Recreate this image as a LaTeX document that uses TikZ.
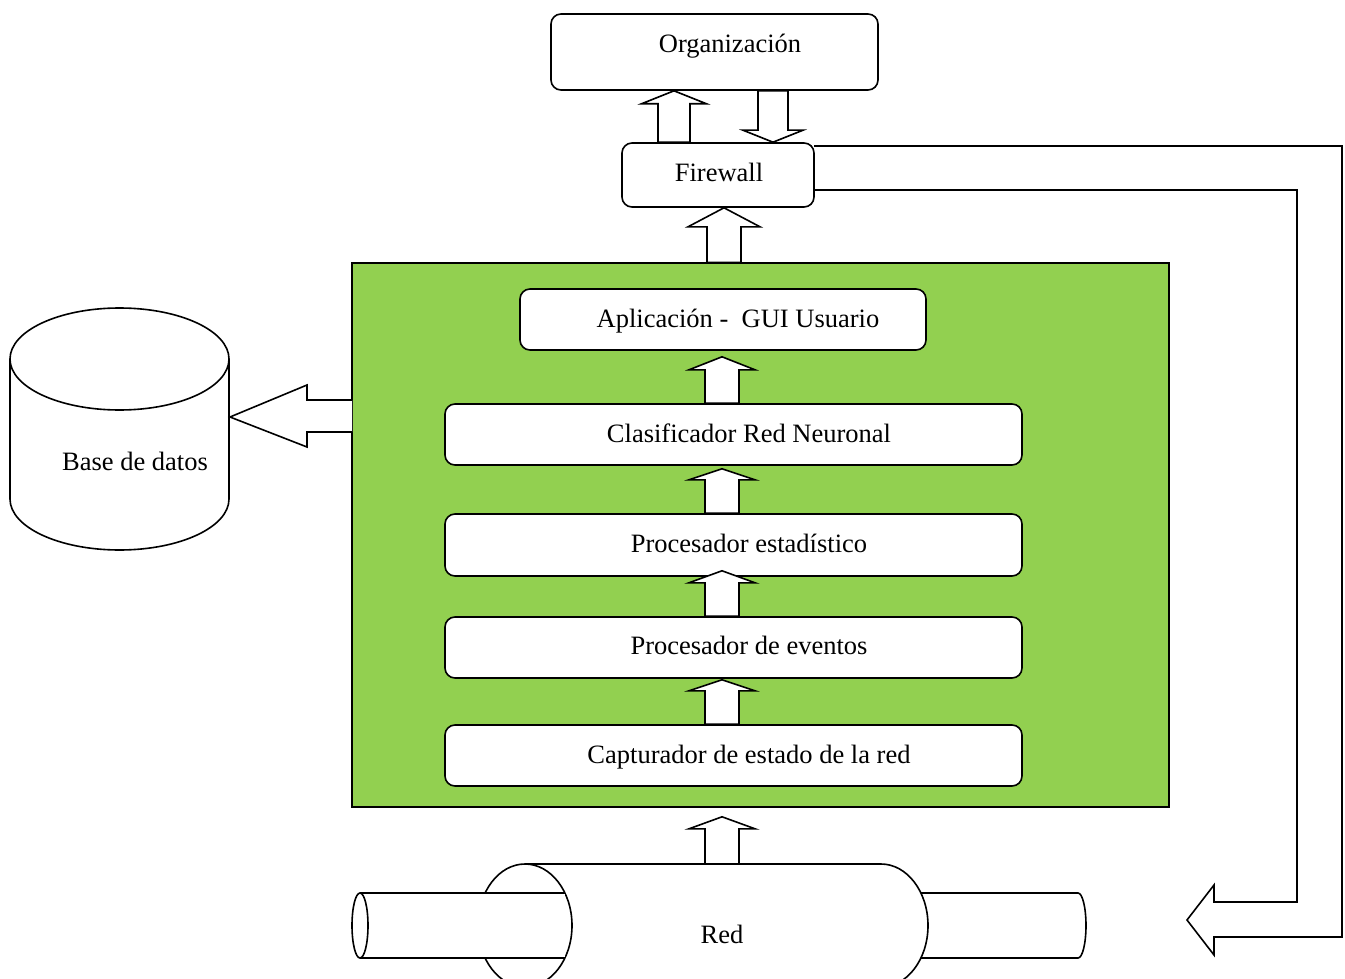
\documentclass[tikz,border=0pt]{standalone}
\usepackage{fontspec}
\setmainfont{Liberation Serif}
\usetikzlibrary{calc}
\definecolor{layergreen}{HTML}{92D050}
% #1 x, #2 tip coordinate, #3 base coordinate, #4 shaft half width, #5 head half width, #6 signed head length
\newcommand\blockup[6]{%
  \path[barrow] let \p1=(#2), \p2=(#3) in
    ({#1pt-#4pt},\y2) -- ({#1pt-#4pt},{\y1-(#6pt)}) -- ({#1pt-#5pt},{\y1-(#6pt)}) --
    ({#1pt},\y1) -- ({#1pt+#5pt},{\y1-(#6pt)}) -- ({#1pt+#4pt},{\y1-(#6pt)}) --
    ({#1pt+#4pt},\y2) -- cycle;}
\begin{document}
\begin{tikzpicture}[x=1pt,y=-1pt,line width=1.6pt,line join=miter,
  box/.style={draw,fill=white,rounded corners=10pt,inner sep=0pt},
  lbl/.style={anchor=base,inner sep=0pt,font=\fontsize{26.5}{31}\selectfont},
  barrow/.style={draw,fill=white,line width=1.6pt}]
\useasboundingbox (0,0) rectangle (1345,979);

% bent arrow Firewall -> Red
\draw[fill=white] (814,146) -- (1342,146) -- (1342,937) -- (1214,937) -- (1214,955) -- (1187,920)
  -- (1214,885) -- (1214,902) -- (1297,902) -- (1297,190) -- (814,190);

% top boxes
\node[box,minimum width=327pt,minimum height=76pt] (org) at (714.5,52) {};
\node[lbl] (orgt) at (730,53) {Organización};
\node[box,minimum width=192pt,minimum height=64pt] (fw) at (718,175) {};
\node[lbl] (fwt) at (719,182) {Firewall};

% green layer
\node[draw,fill=layergreen,line width=1.4pt,minimum width=817pt,minimum height=544pt,inner sep=0pt] (green) at (760.5,535) {};

\node[box,minimum width=406pt,minimum height=61pt] (app) at (723,319.5) {};
\node[lbl] (appt) at (738,327) {Aplicación -~~GUI Usuario};
\node[box,minimum width=577pt,minimum height=61pt] (clas) at (733.5,434.5) {};
\node[lbl] (clast) at (749,442) {Clasificador Red Neuronal};
\node[box,minimum width=577pt,minimum height=62pt] (est) at (733.5,545) {};
\node[lbl] (estt) at (749,552) {Procesador estadístico};
\node[box,minimum width=577pt,minimum height=61pt] (ev) at (733.5,647.5) {};
\node[lbl] (evt) at (749,654) {Procesador de eventos};
\node[box,minimum width=577pt,minimum height=61pt] (cap) at (733.5,755.5) {};
\node[lbl] (capt) at (749,763) {Capturador de estado de la red};

% database
\draw[fill=white] (10,359) -- (10,499) arc[start angle=180,end angle=360,x radius=109.5pt,y radius=51pt] -- (229,359);
\draw[fill=white] (119.5,359) ellipse[x radius=109.5pt,y radius=51pt];
\node[lbl] (dbt) at (135,470) {Base de datos};
\coordinate (db) at (230,417);
\coordinate (gw) at (352,417);
\path[barrow] (gw |- 0,400) -- (307,400) -- (307,385) -- (db) -- (307,447) -- (307,432) -- (gw |- 0,432);

% network (Red)
\draw[fill=white] (900,893) -- (1078,893) arc[start angle=90,end angle=-90,x radius=8pt,y radius=32.5pt] -- (900,958);
\draw[fill=white] (525,864) -- (881,864) arc[start angle=90,end angle=-90,x radius=47pt,y radius=61.5pt] -- (525,987);
\draw[fill=white] (525,925.5) ellipse[x radius=47pt,y radius=61.5pt];
\fill[white] (360,893) rectangle (565,958);
\draw (360,893) -- (565,893) (360,958) -- (565,958);
\draw[fill=white] (360,925.5) ellipse[x radius=8pt,y radius=32.5pt];
\coordinate (redtop) at (722,864);
\node[lbl] (redt) at (722,943) {Red};

% block arrows
\blockup{674}{org.south}{fw.north}{16}{32.5}{13}
\blockup{773}{fw.north}{org.south}{15}{30}{-12}
\blockup{724}{fw.south}{green.north}{17}{36}{19}
\blockup{722}{[yshift=-6pt]app.south}{clas.north}{17}{33}{13}
\blockup{722}{[yshift=-3pt]clas.south}{est.north}{17}{33}{11}
\blockup{722}{[yshift=6pt]est.south}{ev.north}{17}{33}{12}
\blockup{722}{[yshift=-1pt]ev.south}{cap.north}{17}{33}{11}
\blockup{722}{[yshift=-30pt]cap.south}{redtop}{17}{33}{12}
\end{tikzpicture}
\end{document}
